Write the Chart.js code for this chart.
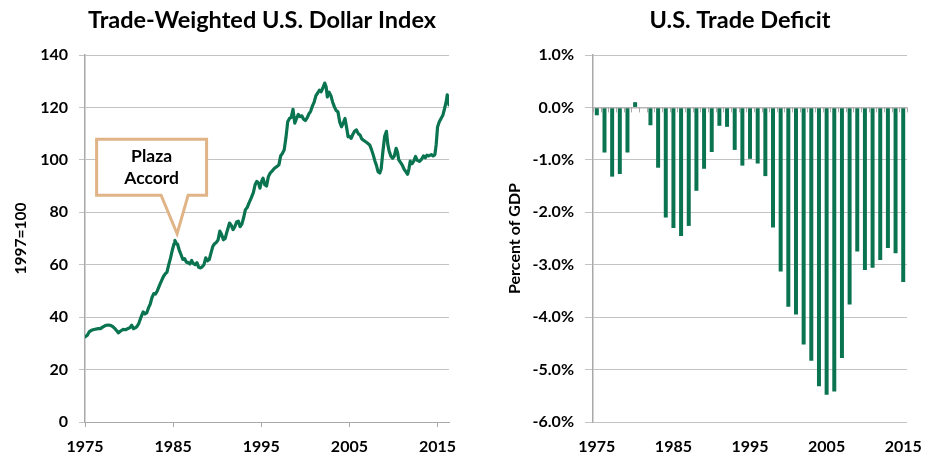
<!DOCTYPE html>
<html>
<head>
<meta charset="utf-8">
<script src="https://cdn.jsdelivr.net/npm/chart.js@4/dist/chart.umd.min.js"></script>
<style>
  html, body { margin: 0; padding: 0; background: #ffffff; }
  #wrap { position: relative; width: 937px; height: 453px; overflow: hidden; }
  canvas { position: absolute; top: 0; }
  #c1 { left: 0; }
  #c2 { left: 470px; }
</style>
</head>
<body>
<div id="wrap">
  <canvas id="c1" width="470" height="453"></canvas>
  <canvas id="c2" width="467" height="453"></canvas>
</div>
<script>
// ---------- Data ----------
const dollarTitle = "Trade-Weighted U.S. Dollar Index";
const dollarAxisTitle = "1997=100";
const dollarTickYears = [1975, 1985, 1995, 2005, 2015];
const dollarYTicks = [0, 20, 40, 60, 80, 100, 120, 140];

const dollarDates = [
  1975.0, 1975.25, 1975.5, 1975.75, 1976.0, 1976.5, 1976.75, 1977.0, 1977.3, 1977.6,
  1977.9, 1978.1, 1978.4, 1978.6, 1978.8, 1979.0, 1979.3, 1979.6, 1979.9, 1980.1,
  1980.3, 1980.5, 1980.7, 1980.9, 1981.1, 1981.3, 1981.6, 1981.8, 1982.0, 1982.2,
  1982.4, 1982.6, 1982.8, 1983.0, 1983.2, 1983.5, 1983.7, 1983.9, 1984.1, 1984.3,
  1984.5, 1984.7, 1984.9, 1985.1, 1985.2, 1985.35, 1985.5, 1985.7, 1985.9, 1986.1,
  1986.3, 1986.5, 1986.7, 1986.9, 1987.1, 1987.3, 1987.5, 1987.7, 1987.9, 1988.1,
  1988.3, 1988.5, 1988.7, 1988.9, 1989.1, 1989.3, 1989.5, 1989.7, 1989.9, 1990.1,
  1990.3, 1990.5, 1990.7, 1990.9, 1991.1, 1991.4, 1991.6, 1991.8, 1992.0, 1992.2,
  1992.4, 1992.6, 1992.8, 1993.0, 1993.2, 1993.4, 1993.6, 1993.85, 1994.1, 1994.3,
  1994.5, 1994.7, 1994.85, 1995.0, 1995.2, 1995.4, 1995.6, 1995.8, 1996.0, 1996.3,
  1996.5, 1996.8, 1997.0, 1997.2, 1997.4, 1997.6, 1997.8, 1998.0, 1998.2, 1998.4,
  1998.6, 1998.8, 1999.0, 1999.2, 1999.4, 1999.6, 1999.8, 2000.0, 2000.2, 2000.4,
  2000.6, 2000.8, 2001.0, 2001.2, 2001.4, 2001.6, 2001.8, 2002.0, 2002.2, 2002.35,
  2002.5, 2002.7, 2002.9, 2003.1, 2003.3, 2003.5, 2003.7, 2003.9, 2004.1, 2004.3,
  2004.5, 2004.7, 2004.85, 2005.0, 2005.2, 2005.4, 2005.6, 2005.8, 2006.0, 2006.2,
  2006.4, 2006.6, 2006.8, 2007.0, 2007.3, 2007.5, 2007.7, 2007.9, 2008.05, 2008.25,
  2008.45, 2008.6, 2008.8, 2009.0, 2009.2, 2009.35, 2009.5, 2009.7, 2009.9, 2010.1,
  2010.3, 2010.45, 2010.6, 2010.8, 2011.0, 2011.2, 2011.4, 2011.6, 2011.75, 2011.9,
  2012.1, 2012.3, 2012.5, 2012.7, 2012.95, 2013.2, 2013.4, 2013.6, 2013.8, 2014.0,
  2014.3, 2014.5, 2014.7, 2014.85, 2015.0, 2015.2, 2015.4, 2015.6, 2015.8, 2016.0,
  2016.1, 2016.2, 2016.3
];
const dollarValues = [
  32.5, 33.0, 34.5, 35.0, 35.3, 35.6, 35.6, 36.2, 36.8, 37.0,
  36.9, 36.5, 35.6, 34.8, 34.0, 34.6, 35.3, 35.2, 35.7, 36.0,
  36.9, 35.6, 35.9, 36.4, 37.6, 39.5, 42.0, 41.2, 41.6, 43.5,
  45.0, 47.5, 49.0, 48.8, 50.0, 52.5, 54.0, 55.5, 56.5, 57.2,
  60.0, 62.5, 65.5, 68.0, 69.3, 68.2, 67.8, 65.5, 63.8, 62.0,
  62.3, 61.0, 60.8, 60.3, 61.6, 60.4, 60.0, 60.8, 59.0, 58.8,
  59.2, 60.0, 62.6, 61.5, 62.0, 64.5, 67.0, 68.0, 68.5, 69.5,
  72.8, 71.5, 69.5, 70.0, 72.5, 75.9, 75.0, 73.4, 74.5, 76.3,
  76.6, 74.5, 75.5, 78.0, 81.0, 81.8, 83.5, 85.4, 87.5, 90.5,
  91.8, 91.0, 89.2, 91.5, 93.0, 90.5, 90.0, 93.5, 94.9, 96.0,
  96.8, 97.5, 98.1, 101.5, 102.5, 103.8, 108.5, 114.5, 115.8, 116.2,
  119.3, 114.0, 115.8, 117.3, 116.5, 116.8, 115.5, 115.0, 116.0, 117.5,
  118.5, 120.5, 122.0, 124.5, 125.5, 126.6, 126.0, 127.5, 129.3, 128.0,
  124.0, 125.8, 124.5, 122.0, 120.2, 118.8, 118.3, 114.5, 112.6, 114.0,
  115.8, 112.0, 108.8, 109.0, 108.2, 109.8, 111.0, 111.4, 110.0, 109.5,
  108.0, 107.5, 107.0, 106.5, 105.7, 104.0, 101.9, 99.5, 98.1, 95.5,
  95.0, 96.5, 103.2, 109.0, 110.9, 106.0, 103.5, 101.5, 100.6, 101.5,
  104.4, 103.0, 100.0, 99.0, 98.0, 96.5, 95.5, 94.5, 96.5, 99.5,
  98.5, 99.5, 101.3, 99.8, 99.4, 100.3, 101.5, 100.8, 101.8, 101.5,
  102.0, 101.5, 102.0, 106.0, 112.5, 114.5, 115.8, 117.0, 119.6, 122.5,
  124.8, 124.0, 121.0
];

const annotationLines = ["Plaza", "Accord"];
const annotationPoint = [1985.45, 71.8];   // data coordinates of the callout tip

const deficitTitle = "U.S. Trade Deficit";
const deficitAxisTitle = "Percent of GDP";
const deficitYears = [
  "1975","1976","1977","1978","1979","1980","1981","1982","1983","1984",
  "1985","1986","1987","1988","1989","1990","1991","1992","1993","1994",
  "1995","1996","1997","1998","1999","2000","2001","2002","2003","2004",
  "2005","2006","2007","2008","2009","2010","2011","2012","2013","2014","2015"
];
const deficitPct = [
  -0.15, -0.86, -1.32, -1.27, -0.86, 0.10, 0.01, -0.34, -1.15, -2.10,
  -2.30, -2.45, -2.26, -1.59, -1.17, -0.85, -0.35, -0.37, -0.81, -1.11,
  -0.98, -1.07, -1.31, -2.29, -3.13, -3.80, -3.95, -4.52, -4.83, -5.32,
  -5.48, -5.42, -4.78, -3.76, -2.75, -3.10, -3.06, -2.91, -2.68, -2.78, -3.33
];
const deficitTickYears = ["1975", "1985", "1995", "2005", "2015"];

// ---------- Styling ----------
const GREEN = '#0a7350';
const GRID = '#c3c3c3';
const AXIS = '#a8a8a8';
const TAN = '#e0b487';
const FONT = "Lato, 'Open Sans', 'Liberation Sans', sans-serif";

Chart.defaults.font.family = FONT;
Chart.defaults.color = '#000000';
Chart.defaults.devicePixelRatio = 1;

const headerPlugin = {
  id: 'header',
  afterDraw(chart, args, opts) {
    const ctx = chart.ctx;
    ctx.save();
    ctx.font = `bold ${opts.size}px ${FONT}`;
    ctx.fillStyle = '#000';
    ctx.textAlign = 'center';
    ctx.textBaseline = 'middle';
    const a = chart.chartArea;
    ctx.fillText(opts.text, (a.left + a.right) / 2 + opts.shift, opts.y);
    ctx.restore();
  }
};

const calloutPlugin = {
  id: 'callout',
  afterDatasetsDraw(chart, args, opts) {
    if (!opts.lines) return;
    const xs = chart.scales.x, ys = chart.scales.y;
    const tx = xs.getPixelForValue(opts.point[0]);
    const ty = ys.getPixelForValue(opts.point[1]);
    const L = tx - 80.5, R = tx + 29.5, T = ty - 94.5, B = ty - 38.5;
    const ctx = chart.ctx;
    ctx.save();
    ctx.beginPath();
    ctx.moveTo(L, T);
    ctx.lineTo(R, T);
    ctx.lineTo(R, B);
    ctx.lineTo(tx + 11, B);
    ctx.lineTo(tx, ty);
    ctx.lineTo(tx - 16, B);
    ctx.lineTo(L, B);
    ctx.closePath();
    ctx.fillStyle = '#ffffff';
    ctx.fill();
    ctx.lineWidth = 3;
    ctx.lineJoin = 'miter';
    ctx.strokeStyle = TAN;
    ctx.stroke();
    ctx.fillStyle = '#000';
    ctx.font = `bold 17.5px ${FONT}`;
    ctx.textAlign = 'center';
    ctx.textBaseline = 'middle';
    const cx = (L + R) / 2;
    ctx.fillText(opts.lines[0], cx, T + 17);
    ctx.fillText(opts.lines[1], cx, T + 39);
    ctx.restore();
  }
};

const zeroTicksPlugin = {
  id: 'zeroTicks',
  afterDatasetsDraw(chart, args, opts) {
    if (!opts.enabled) return;
    const xs = chart.scales.x, ys = chart.scales.y;
    const y0 = ys.getPixelForValue(0);
    const ctx = chart.ctx;
    ctx.save();
    ctx.strokeStyle = AXIS;
    ctx.lineWidth = 1;
    ctx.beginPath();
    ctx.moveTo(chart.chartArea.left, y0 + 0.5);
    ctx.lineTo(chart.chartArea.right, y0 + 0.5);
    const n = chart.data.labels.length;
    for (let i = 0; i <= n; i++) {
      const x = Math.round(xs.getPixelForValue(i - 0.5)) + 0.5;
      ctx.moveTo(x, y0);
      ctx.lineTo(x, y0 + 5);
    }
    ctx.stroke();
    ctx.restore();
  }
};

// ---------- Left chart: dollar index ----------
new Chart(document.getElementById('c1'), {
  type: 'line',
  data: {
    datasets: [{
      data: dollarDates.map((d, i) => ({ x: d, y: dollarValues[i] })),
      borderColor: GREEN,
      borderWidth: 3.2,
      pointRadius: 0,
      tension: 0,
      borderJoinStyle: 'round',
      borderCapStyle: 'round'
    }]
  },
  options: {
    responsive: false,
    animation: false,
    layout: { padding: { top: 55, right: 21, left: 0, bottom: 0 } },
    plugins: {
      legend: { display: false },
      tooltip: { enabled: false },
      header: { text: dollarTitle, size: 23.5, y: 20, shift: -5 },
      callout: { lines: annotationLines, point: annotationPoint },
      zeroTicks: { enabled: false }
    },
    scales: {
      x: {
        type: 'linear',
        min: 1975,
        max: 2016.3,
        afterBuildTicks: (s) => { s.ticks = dollarTickYears.map(v => ({ value: v })); },
        afterFit: (s) => { s.height = 31; },
        ticks: {
          callback: (v) => String(v),
          font: { size: 16, weight: 'bold' },
          padding: 10,
          maxRotation: 0,
          autoSkip: false
        },
        grid: { drawOnChartArea: false, color: AXIS, tickLength: 5 },
        border: { display: true, color: AXIS, width: 1 }
      },
      y: {
        min: 0,
        max: 140,
        afterBuildTicks: (s) => { s.ticks = dollarYTicks.map(v => ({ value: v })); },
        afterFit: (s) => { s.width = 85; },
        ticks: {
          font: { size: 16, weight: 'bold' },
          padding: 11
        },
        grid: { color: GRID, lineWidth: 1, tickLength: 6 },
        border: { display: true, color: AXIS, width: 1.5 },
        title: {
          display: true,
          text: dollarAxisTitle,
          font: { size: 15.5, weight: 'bold' },
          padding: { top: 12, bottom: 0 }
        }
      }
    }
  },
  plugins: [headerPlugin, calloutPlugin]
});

// ---------- Right chart: trade deficit ----------
new Chart(document.getElementById('c2'), {
  type: 'bar',
  data: {
    labels: deficitYears,
    datasets: [{
      data: deficitPct,
      backgroundColor: GREEN,
      borderWidth: 0,
      barPercentage: 0.52,
      categoryPercentage: 1.0
    }]
  },
  options: {
    responsive: false,
    animation: false,
    layout: { padding: { top: 55, right: 18, left: 0, bottom: 0 } },
    plugins: {
      legend: { display: false },
      tooltip: { enabled: false },
      header: { text: deficitTitle, size: 23.5, y: 20, shift: -10 },
      zeroTicks: { enabled: true }
    },
    scales: {
      x: {
        type: 'category',
        afterFit: (s) => { s.height = 31; },
        ticks: {
          callback: function (v) {
            const lab = this.getLabelForValue(v);
            return deficitTickYears.includes(lab) ? lab : '';
          },
          font: { size: 16, weight: 'bold' },
          padding: 15,
          maxRotation: 0,
          autoSkip: false
        },
        grid: { display: false, drawTicks: false },
        border: { display: false }
      },
      y: {
        min: -6,
        max: 1,
        ticks: {
          stepSize: 1,
          callback: (v) => v.toFixed(1) + '%',
          font: { size: 16, weight: 'bold' },
          padding: 11
        },
        afterFit: (s) => { s.width = 123; },
        grid: { color: GRID, lineWidth: 1, tickLength: 8 },
        border: { display: true, color: AXIS, width: 1.5 },
        title: {
          display: true,
          text: deficitAxisTitle,
          font: { size: 16, weight: 'bold' },
          padding: { top: 35, bottom: 0 }
        }
      }
    }
  },
  plugins: [headerPlugin, zeroTicksPlugin]
});
</script>
</body>
</html>
